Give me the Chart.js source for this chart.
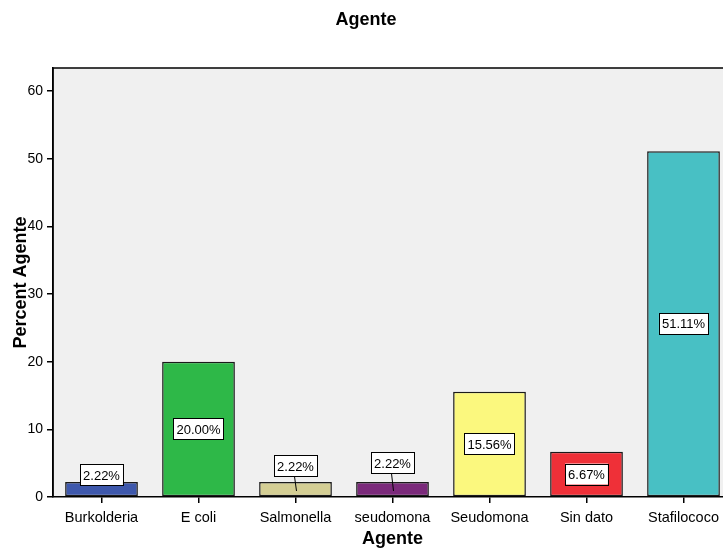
<!DOCTYPE html>
<html>
<head>
<meta charset="utf-8">
<script src="https://cdn.jsdelivr.net/npm/chart.js@4"></script>
<style>
  html, body { margin: 0; padding: 0; overflow: hidden; background: #fff; }
  #wrap { width: 740px; height: 550px; }
</style>
</head>
<body>
<div id="wrap"><canvas id="agenteChart" width="740" height="550"></canvas></div>
<script>
const categorias = ['Burkolderia', 'E coli', 'Salmonella', 'seudomona', 'Seudomona', 'Sin dato', 'Stafilococo'];
const porcentajes = [2.22, 20.00, 2.22, 2.22, 15.56, 6.67, 51.11];
const colores = ['#3E58AC', '#2EB848', '#D4CE94', '#7B2A7B', '#FBF87E', '#EF3038', '#48C0C4'];
const ticksY = [0, 10, 20, 30, 40, 50, 60];

// cuánto sube la etiqueta sobre las barras pequeñas
const subidaEtiqueta = [7, 0, 16, 19, 0, 0, 0];

const fuente = '"Liberation Sans", Arial, sans-serif';

const fondoPlot = {
    id: 'fondoPlot',
    beforeDraw(chart) {
        const { ctx, chartArea: a } = chart;
        ctx.save();
        ctx.fillStyle = '#F0F0F0';
        ctx.fillRect(a.left, a.top, a.right - a.left, a.bottom - a.top);
        ctx.strokeStyle = '#000';
        ctx.lineWidth = 1.5;
        ctx.beginPath();
        ctx.moveTo(a.left, a.bottom);
        ctx.lineTo(a.left, a.top);
        ctx.lineTo(a.right, a.top);
        ctx.stroke();
        ctx.restore();
    }
};

const etiquetas = {
    id: 'etiquetas',
    afterDatasetsDraw(chart) {
        const ctx = chart.ctx;
        const meta = chart.getDatasetMeta(0);
        ctx.save();
        ctx.font = '13px ' + fuente;
        ctx.textAlign = 'center';
        ctx.textBaseline = 'middle';
        meta.data.forEach((bar, i) => {
            const v = porcentajes[i];
            const txt = v.toFixed(2) + '%';
            const w = ctx.measureText(txt).width + 6;
            const h = 21;
            let cy;
            if (v > 5) {
                cy = (bar.y + bar.base) / 2;
            } else {
                cy = bar.y - subidaEtiqueta[i];
                if (subidaEtiqueta[i] > 10) {
                    ctx.strokeStyle = '#000';
                    ctx.lineWidth = 1;
                    ctx.beginPath();
                    ctx.moveTo(bar.x - 1, cy + h / 2);
                    ctx.lineTo(bar.x + 1, bar.y + 9);
                    ctx.stroke();
                }
            }
            ctx.fillStyle = '#fff';
            ctx.fillRect(bar.x - w / 2, cy - h / 2, w, h);
            ctx.strokeStyle = '#000';
            ctx.lineWidth = 1;
            ctx.strokeRect(Math.round(bar.x - w / 2) + 0.5, Math.round(cy - h / 2) + 0.5, Math.round(w), h);
            ctx.fillStyle = '#000';
            ctx.fillText(txt, bar.x, cy + 1);
        });
        ctx.restore();
    }
};

const ctx = document.getElementById('agenteChart').getContext('2d');
const agenteChart = new Chart(ctx, {
    type: 'bar',
    data: {
        labels: categorias,
        datasets: [{
            label: 'Percent Agente',
            data: porcentajes,
            backgroundColor: colores,
            borderColor: '#1a1a1a',
            borderWidth: 1.5,
            borderSkipped: false,
            barPercentage: 0.75,
            categoryPercentage: 1.0
        }]
    },
    options: {
        responsive: false,
        animation: false,
        devicePixelRatio: 1,
        layout: { padding: { top: 0, right: 8, bottom: 0, left: 0 } },
        plugins: {
            legend: { display: false },
            tooltip: { enabled: false },
            title: {
                display: true,
                text: 'Agente',
                color: '#000',
                font: { family: fuente, size: 18, weight: 'bold' },
                padding: { top: 9, bottom: 37.4 }
            }
        },
        scales: {
            x: {
                afterFit(scale) { scale.height = 53; },
                border: { display: true, color: '#000', width: 1.5 },
                grid: { display: true, drawOnChartArea: false, offset: false, tickLength: 6, color: '#000', lineWidth: 1.5 },
                ticks: {
                    color: '#000',
                    padding: 6,
                    font: { family: fuente, size: 14.5 }
                },
                title: {
                    display: true,
                    text: 'Agente',
                    color: '#000',
                    padding: { top: 0, bottom: 0 },
                    font: { family: fuente, size: 18, weight: 'bold' }
                }
            },
            y: {
                min: 0,
                max: 63.4,
                afterFit(scale) { scale.width = 53; },
                afterBuildTicks(scale) { scale.ticks = ticksY.map(v => ({ value: v })); },
                border: { display: true, color: '#000', width: 1.5 },
                grid: { display: true, drawOnChartArea: false, tickLength: 6, color: '#000', lineWidth: 1.5 },
                ticks: {
                    color: '#000',
                    padding: 4,
                    font: { family: fuente, size: 14 }
                },
                title: {
                    display: true,
                    text: 'Percent Agente',
                    color: '#000',
                    padding: { top: 10, bottom: 0 },
                    font: { family: fuente, size: 18, weight: 'bold' }
                }
            }
        }
    },
    plugins: [fondoPlot, etiquetas]
});
</script>
</body>
</html>
